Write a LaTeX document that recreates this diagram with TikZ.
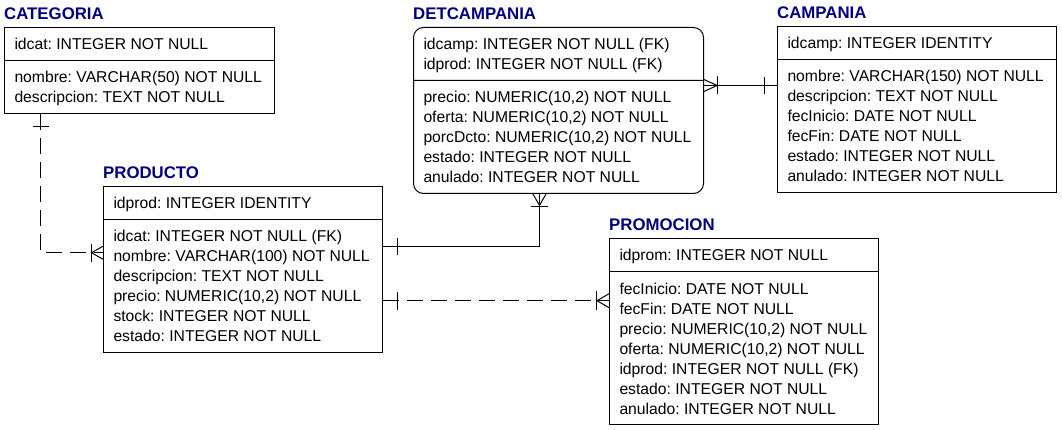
\documentclass[tikz,border=0pt]{standalone}
\usepackage{fontspec}
\setmainfont{Liberation Sans}
\usetikzlibrary{shapes.multipart}
\definecolor{navy}{RGB}{0,0,128}
\newcommand*{\fieldfont}{\fontsize{15.7}{20}\selectfont\frenchspacing}
\newcommand*{\titlefont}{\fontsize{16.8}{20}\selectfont\bfseries}
\newcommand*{\topstrut}{\rule{0pt}{22pt}}
\newcommand*{\botstrut}{\rule[-10pt]{0pt}{10pt}}
\tikzstyle{entity}=[draw, line width=1pt, rectangle split, rectangle split parts=2, rectangle split part align=left, anchor=north west, inner xsep=10pt, inner ysep=0pt, align=left, font=\fieldfont]
\tikzstyle{enttitle}=[anchor=base west, inner sep=0pt, text=navy, font=\titlefont]
\tikzstyle{rel}=[line width=1pt]
\tikzstyle{dashrel}=[rel, dash pattern=on 16pt off 8pt]

\begin{document}
\begin{tikzpicture}[x=1pt, y=-1pt]
    \useasboundingbox (0,0) rectangle (1062,430);
    % entities
    \node [entity, minimum width=270pt] (cat) at (4,27)
        {\topstrut idcat: INTEGER NOT NULL\botstrut
         \nodepart{two}\topstrut nombre: VARCHAR(50) NOT NULL\\
         descripcion: TEXT NOT NULL\botstrut};
    \node [entity, minimum width=279pt] (prod) at (103,185.7)
        {\topstrut idprod: INTEGER IDENTITY\botstrut
         \nodepart{two}\topstrut idcat: INTEGER NOT NULL (FK)\\
         nombre: VARCHAR(100) NOT NULL\\
         descripcion: TEXT NOT NULL\\
         precio: NUMERIC(10,2) NOT NULL\\
         stock: INTEGER NOT NULL\\
         estado: INTEGER NOT NULL\botstrut};
    \node [entity, minimum width=290pt, rounded corners=10pt] (det) at (413,27)
        {\topstrut idcamp: INTEGER NOT NULL (FK)\\
         idprod: INTEGER NOT NULL (FK)\botstrut
         \nodepart{two}\topstrut precio: NUMERIC(10,2) NOT NULL\\
         oferta: NUMERIC(10,2) NOT NULL\\
         porcDcto: NUMERIC(10,2) NOT NULL\\
         estado: INTEGER NOT NULL\\
         anulado: INTEGER NOT NULL\botstrut};
    \node [entity, minimum width=279pt] (camp) at (777,26)
        {\topstrut idcamp: INTEGER IDENTITY\botstrut
         \nodepart{two}\topstrut nombre: VARCHAR(150) NOT NULL\\
         descripcion: TEXT NOT NULL\\
         fecInicio: DATE NOT NULL\\
         fecFin: DATE NOT NULL\\
         estado: INTEGER NOT NULL\\
         anulado: INTEGER NOT NULL\botstrut};
    \node [entity, minimum width=269pt] (prom) at (609,238)
        {\topstrut idprom: INTEGER NOT NULL\botstrut
         \nodepart{two}\topstrut fecInicio: DATE NOT NULL\\
         fecFin: DATE NOT NULL\\
         precio: NUMERIC(10,2) NOT NULL\\
         oferta: NUMERIC(10,2) NOT NULL\\
         idprod: INTEGER NOT NULL (FK)\\
         estado: INTEGER NOT NULL\\
         anulado: INTEGER NOT NULL\botstrut};
    % titles
    \node [enttitle] (cat-t) at ([yshift=7.5pt]cat.north west) {CATEGORIA};
    \node [enttitle] (prod-t) at ([yshift=7.5pt]prod.north west) {PRODUCTO};
    \node [enttitle] (det-t) at ([yshift=7.5pt]det.north west) {DETCAMPANIA};
    \node [enttitle] (camp-t) at ([yshift=7.5pt]camp.north west) {CAMPANIA};
    \node [enttitle] (prom-t) at ([yshift=7.5pt]prom.north west) {PROMOCION};
    % CATEGORIA - PRODUCTO
    \coordinate (c1) at ([xshift=36.5pt]cat.south west);
    \coordinate (c2) at ([yshift=-67pt]prod.north west);
    \draw [dashrel] (c1) |- (c2);
    \draw [rel] ([yshift=-13pt]c1) +(-8,0) -- +(8,0);
    \draw [rel] (c2) +(0,-6.5) -- +(-11.5,0) -- +(0,6.5);
    \draw [rel] (c2) +(-11.5,-9) -- +(-11.5,9);
    % PRODUCTO - DETCAMPANIA
    \coordinate (p1) at ([yshift=-61pt]prod.north east);
    \coordinate (d1) at ([xshift=126.5pt]det.south west);
    \draw [rel] (p1) -| (d1);
    \draw [rel] ([xshift=14.5pt]p1) +(0,-8.5) -- +(0,8.5);
    \draw [rel] (d1) +(-6.5,0) -- +(0,11.5) -- +(6.5,0);
    \draw [rel] (d1) +(-8.5,12.5) -- +(8.5,12.5);
    % PRODUCTO - PROMOCION
    \coordinate (p2) at ([yshift=-115pt]prod.north east);
    \coordinate (m1) at (p2 -| prom.west);
    \draw [dashrel] (p2) -- (m1);
    \draw [rel] ([xshift=14.5pt]p2) +(0,-9) -- +(0,9);
    \draw [rel] (m1) +(0,-7) -- +(-12,0) -- +(0,7);
    \draw [rel] (m1) +(-13,-9.5) -- +(-13,9.5);
    % DETCAMPANIA - CAMPANIA
    \coordinate (d2) at ([yshift=-58.5pt]det.north east);
    \coordinate (k1) at (d2 -| camp.west);
    \draw [rel] (d2) -- (k1);
    \draw [rel] (d2) +(0,-6) -- +(13,0) -- +(0,6);
    \draw [rel] (d2) +(13.5,-9) -- +(13.5,9);
    \draw [rel] (k1) +(-13,-8.5) -- +(-13,8.5);
\end{tikzpicture}
\end{document}
